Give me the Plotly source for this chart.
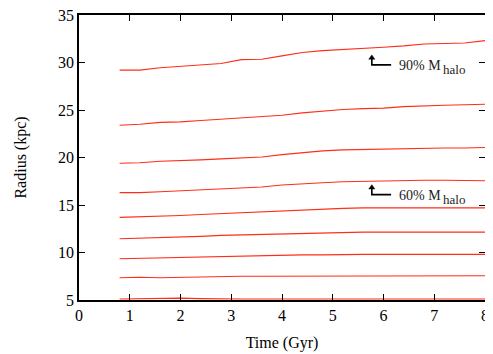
import plotly.graph_objects as go

# Zeitpunkte (Gyr)
time = [0.8, 1.2, 1.6, 2.0, 2.4, 2.8, 3.2, 3.6, 4.0, 4.4, 4.8, 5.2, 5.6, 6.0, 6.4, 6.8, 7.2, 7.6, 8.0]

# Radien (kpc), eine Liste je Massenanteil, von aussen nach innen
r_90 = [29.2, 29.2, 29.45, 29.6, 29.75, 29.9, 30.3, 30.35, 30.7, 31.05, 31.25, 31.35, 31.5, 31.6, 31.75, 31.95, 32.0, 32.05, 32.3]
r_80 = [23.4, 23.5, 23.7, 23.75, 23.9, 24.05, 24.2, 24.3, 24.45, 24.7, 24.9, 25.05, 25.15, 25.2, 25.35, 25.45, 25.5, 25.55, 25.6]
r_70 = [19.4, 19.45, 19.6, 19.65, 19.75, 19.85, 19.95, 20.05, 20.3, 20.5, 20.7, 20.8, 20.85, 20.85, 20.95, 21.0, 21.0, 21.0, 21.05]
r_60 = [16.3, 16.3, 16.4, 16.5, 16.6, 16.7, 16.8, 16.9, 17.1, 17.25, 17.35, 17.45, 17.5, 17.5, 17.55, 17.6, 17.6, 17.55, 17.55]
r_50 = [13.7, 13.75, 13.8, 13.9, 14.0, 14.1, 14.2, 14.25, 14.35, 14.5, 14.6, 14.65, 14.7, 14.7, 14.7, 14.75, 14.75, 14.7, 14.7]
r_40 = [11.45, 11.5, 11.55, 11.65, 11.7, 11.8, 11.85, 11.9, 11.95, 12.0, 12.1, 12.1, 12.15, 12.15, 12.15, 12.15, 12.15, 12.15, 12.15]
r_30 = [9.35, 9.4, 9.45, 9.5, 9.55, 9.6, 9.65, 9.7, 9.7, 9.75, 9.75, 9.8, 9.8, 9.8, 9.8, 9.8, 9.8, 9.8, 9.8]
r_20 = [7.35, 7.4, 7.35, 7.4, 7.45, 7.45, 7.5, 7.5, 7.5, 7.55, 7.55, 7.55, 7.55, 7.55, 7.55, 7.55, 7.55, 7.55, 7.55]
r_10 = [5.1, 5.15, 5.15, 5.2, 5.15, 5.1, 5.1, 5.1, 5.1, 5.1, 5.1, 5.1, 5.1, 5.15, 5.15, 5.1, 5.1, 5.1, 5.1]

radii = [r_90, r_80, r_70, r_60, r_50, r_40, r_30, r_20, r_10]

x_ticks = [0, 1, 2, 3, 4, 5, 6, 7, 8]
y_ticks = [5, 10, 15, 20, 25, 30, 35]

# Beschriftungen mit Winkelpfeil
labels = ['90% M', '60% M']
label_y = [29.75, 16.09]

schrift = 'Liberation Serif'

fig = go.Figure()

for r in radii:
    fig.add_trace(go.Scatter(
        x=time, y=r, mode='lines',
        line=dict(color='rgb(255,45,25)', width=1.1),
        hoverinfo='skip'))

for txt, y0 in zip(labels, label_y):
    xa, xb = 5.77, 6.15
    # Winkel: waagerecht und senkrecht
    fig.add_shape(type='path',
                  path=f'M {xb},{y0} L {xa},{y0} L {xa},{y0 + 0.65}',
                  line=dict(color='black', width=1.6))
    # Pfeilspitze
    fig.add_shape(type='path',
                  path=f'M {xa - 0.06},{y0 + 0.6} L {xa + 0.06},{y0 + 0.6} L {xa},{y0 + 1.05} Z',
                  line=dict(color='black', width=0.5), fillcolor='black')
    fig.add_annotation(x=6.26, y=y0 - 0.05, text=txt, showarrow=False,
                       xanchor='left', yanchor='middle',
                       font=dict(family=schrift, size=14, color='#222'))
    fig.add_annotation(x=7.13, y=y0 - 0.47, text='halo', showarrow=False,
                       xanchor='left', yanchor='middle',
                       font=dict(family=schrift, size=13, color='#222'))

achse = dict(showgrid=False, zeroline=False, showline=True, linecolor='black',
             linewidth=1.6, mirror='ticks', ticks='inside', ticklen=6,
             tickwidth=1.2, tickcolor='black', automargin=False,
             ticklabeloverflow='allow',
             tickfont=dict(family=schrift, size=16, color='black'))

# die Seite hat 8px Rand, daher Figur kleiner
fig.update_layout(
    width=485, height=346,
    margin=dict(l=71, r=8, t=7, b=54),
    plot_bgcolor='white', paper_bgcolor='white',
    showlegend=False,
    xaxis=dict(range=[0, 8], tickvals=x_ticks,
               title=dict(text='Time (Gyr)', standoff=14,
                          font=dict(family=schrift, size=16, color='black')),
               **achse),
    yaxis=dict(range=[5, 35], tickvals=y_ticks,
               title=dict(text='Radius (kpc)', standoff=27,
                          font=dict(family=schrift, size=16, color='black')),
               **achse),
)

fig.write_html("out.html")
